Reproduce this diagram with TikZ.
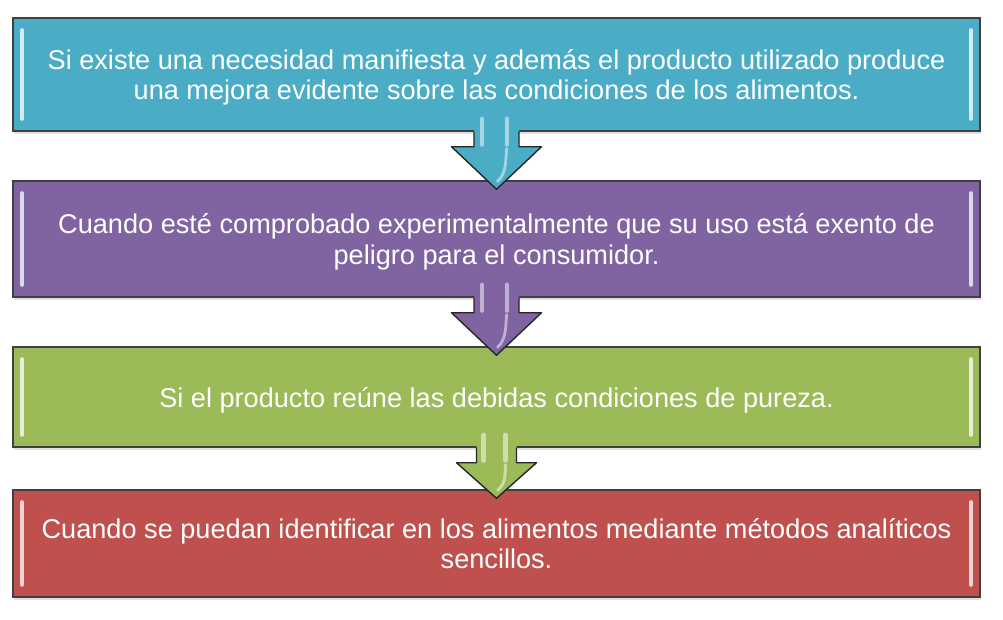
\documentclass[tikz,border=0pt]{standalone}
\usepackage{fontspec}
\setmainfont{Liberation Sans}
\usetikzlibrary{calc,shadows}

\definecolor{condteal}{HTML}{4BACC6}
\definecolor{condpurple}{HTML}{8064A2}
\definecolor{condgreen}{HTML}{9BBB59}
\definecolor{condred}{HTML}{C0504D}

\tikzset{
  condbox/.style={draw=black!75, line width=1pt, minimum width=24.175cm,
    align=center, text=white, font=\fontsize{19.3}{22}\selectfont, text depth=0pt,
    drop shadow={opacity=0.25, shadow xshift=0.5pt, shadow yshift=-2pt}},
  arrowline/.style={draw=black!85, line width=1pt, line join=round},
  shine/.style={white, opacity=0.5, line width=3pt, line cap=round}
}

% light stripes on the left and right side of a box
\newcommand{\bevel}[2]{%
  \draw[#2!25!white, line width=3pt, line cap=round]
    ($(#1.north west)+(10,13)$) -- ($(#1.south west)+(10,-13)$);
  \draw[#2!25!white, line width=3pt, line cap=round]
    ($(#1.north east)+(-10,13)$) -- ($(#1.south east)+(-10,-13)$);
}

% block arrow from one box to the next: from, to, colour, half head width
\newcommand{\blockarrow}[4]{%
  \pgfmathsetmacro\arrowhw{#4}
  \pgfmathsetmacro\arrowsw{#4/2}
  \path (#1.south) ++(-\arrowsw,-16) coordinate (sa)
        (#1.south) ++(-\arrowsw,0) coordinate (sb)
        (#1.south) ++(-\arrowsw,15) coordinate (sc)
        (#1.south) ++(-\arrowhw,15) coordinate (sd)
        (#2.north) ++(0,9) coordinate (tip)
        (#1.south) ++(\arrowhw,15) coordinate (se)
        (#1.south) ++(\arrowsw,15) coordinate (sf)
        (#1.south) ++(\arrowsw,0) coordinate (sg)
        (#1.south) ++(\arrowsw,-16) coordinate (sh);
  \fill[#3] (sa) -- (sc) -- (sd) -- (tip) -- (se) -- (sf) -- (sh) -- cycle;
  \draw[arrowline] (sb) -- (sc) -- (sd) -- (tip) -- (se) -- (sf) -- (sg);
  % highlights
  \draw[shine] ($(sa)+(0.35*\arrowsw,3)$) -- ($(sc)+(0.35*\arrowsw,-2)$);
  \draw[shine] ($(sh)+(-0.55*\arrowsw,3)$) -- ($(sf)+(-0.55*\arrowsw,-2)$);
  \draw[shine, line width=2pt] ($(sf)+(-0.55*\arrowsw,2)$)
    .. controls ($(sf)+(-0.6*\arrowsw,14)$) and ($(tip)+(10,-16)$) .. ($(tip)+(1,-8)$);
}

\begin{document}
\begin{tikzpicture}[x=0.025cm, y=-0.025cm]
  \useasboundingbox (0,0) rectangle (1003,619);

  % the four conditions
  \node[condbox, fill=condteal, minimum height=2.825cm] (cond1) at (496.5,74.5)
    {Si existe una necesidad manifiesta y además el producto utilizado produce\\
     una mejora evidente sobre las condiciones de los alimentos.};
  \node[condbox, fill=condpurple, minimum height=2.9cm] (cond2) at (496.5,239)
    {Cuando esté comprobado experimentalmente que su uso está exento de\\
     peligro para el consumidor.};
  \node[condbox, fill=condgreen, minimum height=2.5cm] (cond3) at (496.5,397)
    {Si el producto reúne las debidas condiciones de pureza.};
  \node[condbox, fill=condred, minimum height=2.675cm] (cond4) at (496.5,543.5)
    {Cuando se puedan identificar en los alimentos mediante métodos analíticos\\
     sencillos.};

  \bevel{cond1}{condteal}
  \bevel{cond2}{condpurple}
  \bevel{cond3}{condgreen}
  \bevel{cond4}{condred}

  % arrows between the boxes
  \blockarrow{cond1}{cond2}{condteal}{45}
  \blockarrow{cond2}{cond3}{condpurple}{45}
  \blockarrow{cond3}{cond4}{condgreen}{40}
\end{tikzpicture}
\end{document}
